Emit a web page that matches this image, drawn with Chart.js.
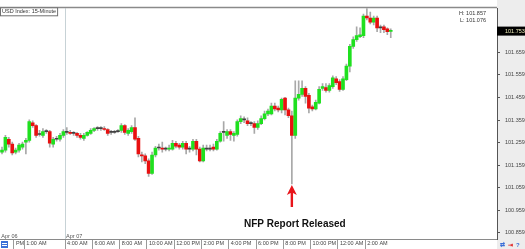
<!DOCTYPE html>
<html>
<head>
<meta charset="utf-8">
<script src="https://cdn.jsdelivr.net/npm/chart.js@4.4.0/dist/chart.umd.min.js"></script>
<style>
  html, body { margin: 0; padding: 0; background: #fff; }
  #wrap { width: 525px; height: 249px; position: relative; }
</style>
</head>
<body>
<div id="wrap"><canvas id="chart"></canvas></div>
<script>
'use strict';

// USD Index, 15-minute candles (one entry per candle, oldest first)
const OPEN = [101.217,101.226,101.274,101.252,101.217,101.226,101.239,101.261,101.269,101.347,
  101.334,101.295,101.291,101.308,101.308,101.252,101.274,101.274,101.291,101.304,
  101.304,101.300,101.300,101.291,101.278,101.291,101.300,101.313,101.321,101.321,
  101.321,101.317,101.304,101.304,101.308,101.313,101.334,101.300,101.308,101.326,
  101.278,101.204,101.200,101.178,101.122,101.204,101.235,101.235,101.230,101.230,
  101.230,101.256,101.248,101.239,101.256,101.230,101.230,101.265,101.230,101.178,
  101.230,101.230,101.239,101.230,101.265,101.304,101.291,101.308,101.291,101.295,
  101.352,101.360,101.356,101.343,101.343,101.326,101.343,101.365,101.386,101.386,
  101.421,101.412,101.404,101.456,101.404,101.378,101.291,101.456,101.473,101.499,
  101.469,101.417,101.408,101.434,101.499,101.503,101.490,101.507,101.542,101.529,
  101.495,101.538,101.598,101.685,101.715,101.728,101.733,101.819,101.811,101.793,
  101.811,101.767,101.772,101.763,101.752];
const HIGH = [101.239,101.291,101.282,101.261,101.235,101.256,101.261,101.278,101.360,101.356,
  101.339,101.313,101.321,101.317,101.313,101.282,101.287,101.300,101.317,101.326,
  101.313,101.308,101.304,101.300,101.300,101.308,101.321,101.326,101.330,101.330,
  101.330,101.321,101.313,101.313,101.317,101.343,101.339,101.321,101.334,101.369,
  101.287,101.217,101.209,101.187,101.217,101.243,101.252,101.261,101.239,101.248,
  101.269,101.265,101.256,101.265,101.265,101.243,101.274,101.274,101.239,101.248,
  101.248,101.248,101.252,101.274,101.308,101.352,101.317,101.317,101.308,101.360,
  101.378,101.373,101.369,101.352,101.352,101.356,101.378,101.399,101.408,101.434,
  101.434,101.421,101.456,101.460,101.412,101.399,101.533,101.533,101.533,101.507,
  101.477,101.425,101.447,101.507,101.520,101.520,101.520,101.555,101.551,101.538,
  101.551,101.607,101.694,101.728,101.772,101.767,101.828,101.857,101.837,101.819,
  101.819,101.780,101.780,101.767,101.763];
const LOW = [101.209,101.217,101.239,101.204,101.209,101.217,101.230,101.209,101.261,101.326,
  101.282,101.287,101.282,101.300,101.239,101.239,101.265,101.265,101.282,101.295,
  101.295,101.291,101.282,101.274,101.269,101.287,101.295,101.308,101.313,101.313,
  101.313,101.291,101.295,101.300,101.304,101.304,101.295,101.291,101.300,101.269,
  101.196,101.174,101.166,101.109,101.118,101.196,101.226,101.217,101.222,101.222,
  101.226,101.235,101.230,101.230,101.209,101.217,101.222,101.204,101.174,101.174,
  101.222,101.222,101.222,101.226,101.261,101.265,101.278,101.269,101.265,101.287,
  101.343,101.347,101.334,101.334,101.300,101.317,101.339,101.360,101.378,101.382,
  101.399,101.395,101.391,101.382,101.369,101.076,101.278,101.447,101.464,101.434,
  101.391,101.399,101.404,101.430,101.490,101.482,101.482,101.499,101.516,101.486,
  101.490,101.533,101.572,101.676,101.707,101.724,101.724,101.802,101.785,101.780,
  101.750,101.746,101.746,101.737,101.724];
const CLOSE = [101.226,101.282,101.252,101.213,101.226,101.248,101.252,101.269,101.352,101.334,
  101.291,101.295,101.308,101.308,101.256,101.274,101.274,101.291,101.308,101.304,
  101.300,101.300,101.291,101.282,101.291,101.304,101.313,101.321,101.321,101.321,
  101.317,101.300,101.304,101.304,101.308,101.334,101.304,101.313,101.326,101.274,
  101.209,101.200,101.178,101.122,101.204,101.235,101.235,101.230,101.230,101.235,
  101.256,101.243,101.239,101.256,101.230,101.230,101.265,101.230,101.178,101.235,
  101.230,101.230,101.230,101.265,101.300,101.304,101.308,101.295,101.300,101.352,
  101.365,101.360,101.343,101.343,101.326,101.343,101.365,101.386,101.399,101.421,
  101.408,101.404,101.451,101.404,101.378,101.291,101.456,101.473,101.499,101.464,
  101.412,101.408,101.438,101.495,101.507,101.490,101.512,101.546,101.525,101.495,
  101.542,101.598,101.685,101.715,101.733,101.737,101.819,101.811,101.793,101.811,
  101.767,101.767,101.759,101.750,101.753];

// price axis
const PRICE_TICKS = [100.859, 100.959, 101.059, 101.159, 101.259, 101.359, 101.459, 101.559, 101.659];
const PRICE_MIN = 100.832;
const PRICE_MAX = 101.854;

// time axis: separators sit just before the candle they label
const TIME_TICKS = [3.5, 6.5, 18.5, 26.5, 34.5, 42.5, 50.5, 58.5, 66.5, 74.5, 82.5, 90.5, 98.5, 106.5];
const TIME_LABELS = ['PM', '1:00 AM', '4:00 AM', '6:00 AM', '8:00 AM', '10:00 AM', '12:00 PM', '2:00 PM',
  '4:00 PM', '6:00 PM', '8:00 PM', '10:00 PM', '12:00 AM', '2:00 AM'];
const DAY_TICKS = [-0.5, 18.5];
const DAY_LABELS = ['Apr 06', 'Apr 07'];

const NFP_INDEX = 85;
const SERIES_TITLE = 'USD Index: 15-Minute';

const FONT = 'Liberation Sans, Arial, sans-serif';
const UP = '#1fe01f', DOWN = '#e81010', FLAT = '#404040', WICK = '#a8a8a8';

const bodies = OPEN.map((o, i) => ({ x: i, y: [o, CLOSE[i]] }));
const wicks = LOW.map((l, i) => ({ x: i, y: [l, HIGH[i]] }));
const bodyColors = OPEN.map((o, i) => CLOSE[i] > o ? UP : (CLOSE[i] < o ? DOWN : FLAT));

const frame = {
  id: 'frame',
  beforeDraw(chart) {
    const { ctx, chartArea: a, width, height, scales } = chart;
    ctx.save();
    // right price panel
    ctx.fillStyle = '#ededed';
    ctx.fillRect(a.right, 0, width - a.right, height);
    // day separator
    ctx.strokeStyle = '#c7d2d6';
    ctx.lineWidth = 1;
    const dx = Math.round(scales.x.getPixelForValue(DAY_TICKS[1])) + 0.5;
    ctx.beginPath(); ctx.moveTo(dx, a.top); ctx.lineTo(dx, a.bottom); ctx.stroke();
    // top border
    ctx.strokeStyle = '#8a8a8a';
    ctx.lineWidth = 1.5;
    ctx.beginPath(); ctx.moveTo(0, a.top - 0.75); ctx.lineTo(a.right, a.top - 0.75); ctx.stroke();
    ctx.restore();
  },
  afterDraw(chart) {
    const { ctx, chartArea: a, width, height, scales } = chart;
    const x = scales.x, y = scales.y;
    ctx.save();

    // title box
    ctx.font = '5.5px ' + FONT;
    ctx.textBaseline = 'middle';
    const tw = ctx.measureText(SERIES_TITLE).width;
    ctx.fillStyle = '#fff';
    ctx.fillRect(0.5, a.top - 0.5, tw + 3, 8);
    ctx.strokeStyle = '#707070';
    ctx.lineWidth = 1;
    ctx.strokeRect(0.5, a.top - 0.5, tw + 3, 8);
    ctx.fillStyle = '#333';
    ctx.textAlign = 'left';
    ctx.fillText(SERIES_TITLE, 2, a.top + 3.5);

    // high / low of visible range
    ctx.textAlign = 'right';
    ctx.fillText('H: ' + Math.max(...HIGH).toFixed(3), a.right - 11, a.top + 5);
    ctx.fillText('L: ' + Math.min(...LOW).toFixed(3), a.right - 11, a.top + 12);

    // day labels
    ctx.textAlign = 'left';
    ctx.fillStyle = '#555';
    DAY_TICKS.forEach((t, i) => {
      ctx.fillText(DAY_LABELS[i], Math.max(1, x.getPixelForValue(t) + 1), a.bottom - 3);
    });

    // current price box
    const last = CLOSE[CLOSE.length - 1];
    const py = y.getPixelForValue(last);
    ctx.fillStyle = '#000';
    ctx.fillRect(a.right, py - 4.5, width - a.right, 9);
    ctx.fillStyle = '#ecebb8';
    ctx.textAlign = 'left';
    ctx.fillText(last.toFixed(3), a.right + 8, py + 0.5);

    // NFP arrow
    const ax = x.getPixelForValue(NFP_INDEX);
    const ay = y.getPixelForValue(LOW[NFP_INDEX]) + 1;
    ctx.fillStyle = '#e8141a';
    ctx.beginPath();
    ctx.moveTo(ax, ay);
    ctx.lineTo(ax + 5, ay + 10);
    ctx.lineTo(ax + 1.2, ay + 8);
    ctx.lineTo(ax + 1.2, ay + 22);
    ctx.lineTo(ax - 1.2, ay + 22);
    ctx.lineTo(ax - 1.2, ay + 8);
    ctx.lineTo(ax - 5, ay + 10);
    ctx.closePath();
    ctx.fill();
    ctx.font = 'bold 10px ' + FONT;
    ctx.fillStyle = '#111';
    ctx.textAlign = 'center';
    ctx.fillText('NFP Report Released', ax + 3, ay + 39);

    // corner icons
    ctx.fillStyle = '#3a6fd8';
    ctx.fillRect(1, a.bottom + 2, 7, 7);
    ctx.fillStyle = '#fff';
    ctx.fillRect(2, a.bottom + 4, 5, 1);
    ctx.fillRect(2, a.bottom + 6, 5, 1);
    ctx.font = 'bold 6px ' + FONT;
    ctx.textAlign = 'left';
    ctx.fillStyle = '#3a6fd8';
    ctx.fillText('\u21c4', a.right + 3, height - 4);
    ctx.fillStyle = '#e02020';
    ctx.fillText('\u21e5', a.right + 11, height - 4);
    ctx.fillStyle = '#3a6fd8';
    ctx.fillText('?', a.right + 19, height - 4);
    ctx.restore();
  }
};

new Chart(document.getElementById('chart'), {
  type: 'bar',
  data: {
    datasets: [
      { data: bodies, backgroundColor: bodyColors, barThickness: 3, minBarLength: 1, grouped: false, order: 1 },
      { data: wicks, backgroundColor: WICK, barThickness: 1, grouped: false, order: 2 }
    ]
  },
  options: {
    responsive: true,
    maintainAspectRatio: false,
    animation: false,
    layout: { padding: { top: 3, left: 0, right: 0, bottom: 0 } },
    plugins: { legend: { display: false }, tooltip: { enabled: false } },
    scales: {
      x: {
        type: 'linear',
        offset: false,
        min: -0.59,
        max: 145.16,
        position: 'bottom',
        afterBuildTicks: s => { s.ticks = TIME_TICKS.map(v => ({ value: v })); },
        afterFit: s => { s.height = 10; },
        ticks: {
          callback: (v, i) => TIME_LABELS[i],
          autoSkip: false, maxRotation: 0, align: 'start', padding: -9, labelOffset: 2,
          font: { family: FONT, size: 5.5 }, color: '#444'
        },
        grid: { offset: false, drawOnChartArea: false, tickLength: 10, color: '#9a9a9a' },
        border: { color: '#8a8a8a' }
      },
      y: {
        type: 'linear',
        position: 'right',
        min: PRICE_MIN,
        max: PRICE_MAX,
        afterBuildTicks: s => { s.ticks = PRICE_TICKS.map(v => ({ value: v })); },
        afterFit: s => { s.width = 28; },
        ticks: {
          callback: v => Number(v).toFixed(3),
          padding: 5, font: { family: FONT, size: 5.5 }, color: '#444'
        },
        grid: { drawOnChartArea: false, tickLength: 3, color: '#555' },
        border: { color: '#555' }
      }
    }
  },
  plugins: [frame]
});
</script>
</body>
</html>
